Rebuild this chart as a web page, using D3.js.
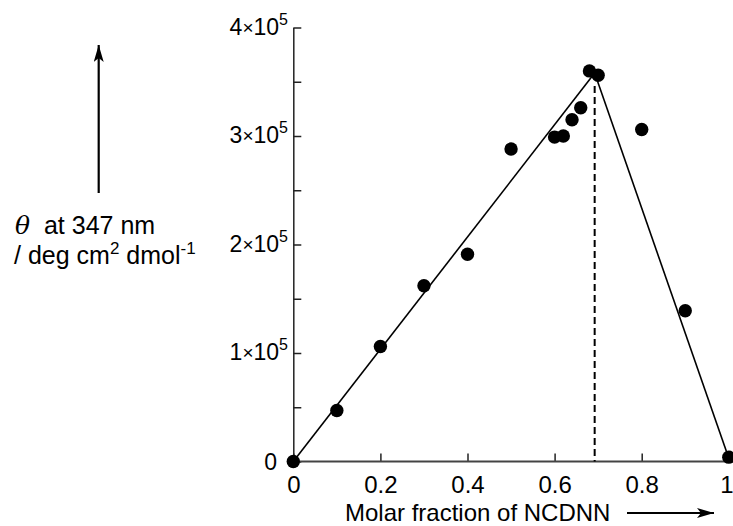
<!DOCTYPE html>
<html>
<head>
<meta charset="utf-8">
<script src="https://cdn.jsdelivr.net/npm/d3@7"></script>
<style>
  body { margin: 0; background: #fff; }
  text { font-family: "Liberation Sans", Arial, Helvetica, sans-serif; fill: #000; white-space: pre; }
</style>
</head>
<body>
<svg id="chart"></svg>
<script>
var w = 733;
var h = 526;

// molar fraction of NCDNN vs theta (x 1e5)
var fractions = [0, 0.1, 0.2, 0.3, 0.4, 0.5, 0.6, 0.62, 0.64, 0.66, 0.68, 0.70, 0.8, 0.9, 1.0];
var theta = [0, 0.47, 1.06, 1.62, 1.91, 2.88, 2.99, 3.00, 3.15, 3.26, 3.60, 3.56, 3.06, 1.39, 0.04];
var leftFit = [[0, 0], [0.692, 3.58]];
var rightFit = [[0.692, 3.58], [1, 0.03]];
var xTicks = [0, 0.2, 0.4, 0.6, 0.8, 1];
var yTicks = [0, 0.5, 1, 1.5, 2, 2.5, 3, 3.5, 4];
var yLabels = [1, 2, 3, 4];

var svg = d3.select("#chart")
    .attr("width", w)
    .attr("height", h);

var x = d3.scaleLinear().domain([0, 1]).range([293.3, 728.8]);
var y = d3.scaleLinear().domain([0, 4]).range([461.5, 27.5]);

// arrow head marker
svg.append("defs").append("marker")
    .attr("id", "head")
    .attr("viewBox", "0 0 17 10")
    .attr("refX", 17)
    .attr("refY", 5)
    .attr("markerWidth", 17)
    .attr("markerHeight", 10)
    .attr("markerUnits", "userSpaceOnUse")
    .attr("orient", "auto")
  .append("path")
    .attr("d", "M0,0 L17,5 L0,10 L4,5 Z")
    .style("fill", "#000");

// y axis, ticks pointing inward
var yAxis = d3.axisLeft(y)
    .tickValues(yTicks)
    .tickSizeInner(-8)
    .tickSizeOuter(0)
    .tickFormat("");
var gy = svg.append("g")
    .attr("transform", "translate(" + x(0) + ",0)")
    .call(yAxis);
gy.selectAll("line, path").style("stroke", "#222").style("stroke-width", 1.5);

// x axis
var xAxis = d3.axisBottom(x)
    .tickValues(xTicks)
    .tickSizeInner(-8)
    .tickSizeOuter(0)
    .tickPadding(14)
    .tickFormat(d => (d === 0 || d === 1) ? d : d.toFixed(1));
var gx = svg.append("g")
    .attr("transform", "translate(0," + y(0) + ")")
    .call(xAxis);
gx.select(".domain").remove();
gx.selectAll("line").style("stroke", "#222").style("stroke-width", 1.5);
gx.selectAll("text").style("font-size", "24px").attr("fill", "#000");
// last label sits against the right edge
gx.selectAll("text").filter(d => d === 1)
    .attr("text-anchor", "end")
    .attr("x", w - x(1));
gx.append("line")
    .attr("x1", x(0)).attr("x2", w)
    .attr("y1", 0).attr("y2", 0)
    .style("stroke", "#444")
    .style("stroke-width", 1.8);

// y tick labels "n x 10^5"
var yl = svg.append("g");
yl.append("text")
    .attr("x", 277)
    .attr("y", y(0) + 8)
    .attr("text-anchor", "end")
    .style("font-size", "23px")
    .text("0");
var lab = yl.selectAll(".ylab")
    .data(yLabels)
    .enter().append("text")
    .attr("class", "ylab")
    .attr("x", 288)
    .attr("y", d => y(d) + 7)
    .attr("text-anchor", "end")
    .style("font-size", "23px");
lab.append("tspan").text(d => d);
lab.append("tspan").style("font-size", "19px").attr("dy", -1).text("\u00d7");
lab.append("tspan").attr("dy", 1).text("10");
lab.append("tspan").style("font-size", "16px").attr("dy", -10).text("5");

// fit lines
var line = d3.line()
    .x(d => x(d[0]))
    .y(d => y(d[1]));
svg.append("path")
    .datum(leftFit)
    .attr("d", line)
    .style("fill", "none")
    .style("stroke", "#000")
    .style("stroke-width", 1.6);
svg.append("path")
    .datum(rightFit)
    .attr("d", line)
    .style("fill", "none")
    .style("stroke", "#000")
    .style("stroke-width", 1.6);
svg.append("path")
    .datum([[leftFit[1][0], leftFit[1][1] - 0.12], [leftFit[1][0], 0]])
    .attr("d", line)
    .style("fill", "none")
    .style("stroke", "#000")
    .style("stroke-width", 2)
    .style("stroke-dasharray", "7,4");

// points
svg.selectAll(".pt")
    .data(fractions)
    .enter().append("circle")
    .attr("class", "pt")
    .attr("cx", d => x(d))
    .attr("cy", (d, i) => y(theta[i]))
    .attr("r", 6.7)
    .style("fill", "#000");

// x title with arrow
svg.append("text")
    .attr("x", 345)
    .attr("y", 521)
    .style("font-size", "24px")
    .text("Molar fraction of NCDNN");
svg.append("line")
    .attr("x1", 627).attr("x2", 714)
    .attr("y1", 513).attr("y2", 513)
    .style("stroke", "#000")
    .style("stroke-width", 2)
    .attr("marker-end", "url(#head)");

// y title with arrow
svg.append("line")
    .attr("x1", 98.7).attr("x2", 98.7)
    .attr("y1", 193).attr("y2", 45)
    .style("stroke", "#000")
    .style("stroke-width", 2.2)
    .attr("marker-end", "url(#head)");
var t1 = svg.append("text")
    .attr("x", 15)
    .attr("y", 234)
    .style("font-size", "25px");
t1.append("tspan").style("font-family", "'DejaVu Serif', serif").style("font-style", "italic").text("\u03b8");
t1.append("tspan").text("  at 347 nm");
var t2 = svg.append("text")
    .attr("x", 14)
    .attr("y", 264)
    .style("font-size", "25px");
t2.append("tspan").text("/ deg cm");
t2.append("tspan").style("font-size", "17px").attr("dy", -10).text("2");
t2.append("tspan").attr("dy", 10).text(" dmol");
t2.append("tspan").style("font-size", "17px").attr("dy", -10).text("-1");
</script>
</body>
</html>
